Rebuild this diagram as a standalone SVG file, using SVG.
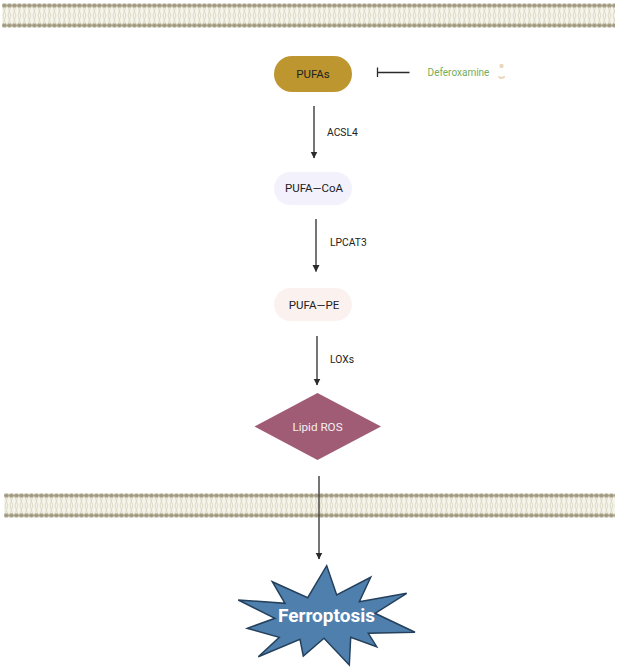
<svg xmlns="http://www.w3.org/2000/svg" width="617" height="670" viewBox="0 0 617 670">
  <style>
    text { font-family: Roboto, "Liberation Sans", sans-serif; text-anchor: middle; }
    .node { font-size: 11.500px; fill: #222; }
    .enzyme { font-size: 10.300px; fill: #222; text-anchor: start; }
    .link { stroke: #2b2b2b; stroke-width: 1.300; fill: none; }
  </style>
  <defs>
    <marker id="arrow" markerUnits="userSpaceOnUse" markerWidth="8" markerHeight="8" refX="6.500" refY="3.500" orient="auto">
      <path d="M0 0L7 3.500L0 7Z" fill="#2b2b2b"/>
    </marker>
    <!-- One phospholipid pair: two heads joined by wavy tails -->
    <pattern id="lipid" width="5" height="26" patternUnits="userSpaceOnUse">
      <rect y="3" width="5" height="20" fill="#f6f5ec"/>
      <path d="M1 4L3.800 13L1 22M3.800 4L1 13L3.800 22" fill="none" stroke="#d9d6c2" stroke-width="0.900"/>
      <rect y="1.700" width="5" height="2.600" fill="#b5af9a"/>
      <rect y="21.700" width="5" height="2.600" fill="#b5af9a"/>
      <circle cx="2.400" cy="3" r="2.100" fill="#a0997f"/>
      <circle cx="2.400" cy="23" r="2.100" fill="#a0997f"/>
    </pattern>
  </defs>
  <rect width="617" height="670" fill="#fff"/>

  <g id="membrane-top">
    <rect transform="translate(2 2.500)" width="613" height="26" fill="url(#lipid)"/>
  </g>
  <g id="membrane-bottom">
    <rect transform="translate(4 492.500)" width="611" height="26" fill="url(#lipid)"/>
  </g>

  <g id="connectors">
    <path class="link" d="M314 106V158" marker-end="url(#arrow)"/>
    <path class="link" d="M316 219V271.500" marker-end="url(#arrow)"/>
    <path class="link" d="M317 336V385" marker-end="url(#arrow)"/>
    <path class="link" d="M319 476V559" marker-end="url(#arrow)"/>
    <path class="link" d="M377.500 67.500V77M378 72.500H409.500"/>
  </g>

  <g id="pufas">
    <rect x="274" y="56" width="78" height="36" rx="18" fill="#bd962f"/>
    <text class="node" x="313" y="78">PUFAs</text>
  </g>
  <g id="deferoxamine">
    <text x="458.500" y="75.500" font-size="10px" fill="#74ad5c">Deferoxamine</text>
    <circle cx="501.500" cy="66" r="2.200" fill="#ead8bd"/>
    <path d="M498.500 75.500c1.500 1.500 4 1.500 6 .3l.7 1c-1 2.700-5.500 3-6.900.7Z" fill="#ead8bd"/>
  </g>
  <g id="acsl4">
    <text class="enzyme" x="327" y="136">ACSL4</text>
  </g>
  <g id="pufa-coa">
    <rect x="274" y="172" width="78" height="33" rx="16.500" fill="#f3f1fc"/>
    <text class="node" x="314" y="192">PUFA—CoA</text>
  </g>
  <g id="lpcat3">
    <text class="enzyme" x="330" y="246">LPCAT3</text>
  </g>
  <g id="pufa-pe">
    <rect x="274" y="288" width="78" height="33" rx="16.500" fill="#fbf2f0"/>
    <text class="node" x="314" y="309">PUFA—PE</text>
  </g>
  <g id="loxs">
    <text class="enzyme" x="330" y="363">LOXs</text>
  </g>
  <g id="lipid-ros">
    <path d="M317.500 393L381 426.500L317.500 460L254.500 426.500Z" fill="#a05c75"/>
    <text x="317.500" y="430.500" font-size="11.700px" fill="#f4eef0">Lipid ROS</text>
  </g>
  <g id="ferroptosis">
    <path d="M326.700 565.700L336.700 595L370.700 577.300L359.300 601.700L406.700 593.300L375 613.300L415 632.300L368.300 633.300L376.700 646.700L350.700 637.300L349.300 665L324 638.300L303.300 656L300 639.300L258.300 656.700L279.300 637.300L247.300 628.300L275 618.300L238.300 600L285 603.300L272.300 581.700L307.700 597.700Z" fill="#4f80ad" stroke="#24405c" stroke-width="1.500" stroke-linejoin="miter"/>
    <text x="326.500" y="622" font-size="19px" font-weight="700" fill="#fff">Ferroptosis</text>
  </g>
</svg>
